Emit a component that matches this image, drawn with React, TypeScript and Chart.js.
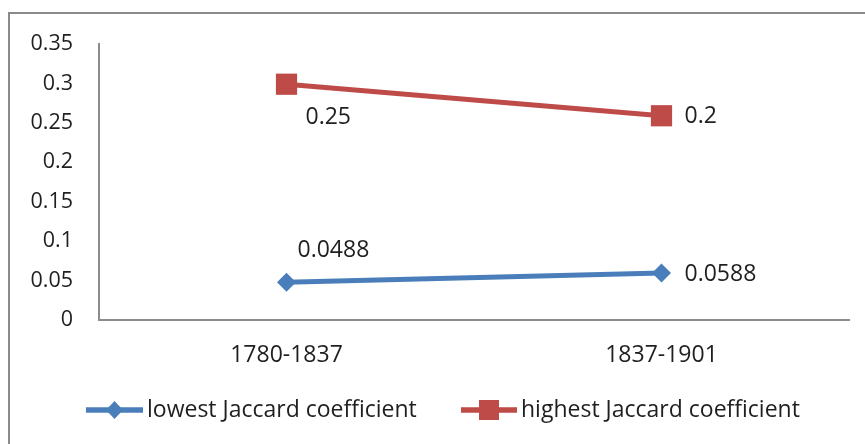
import React, { useEffect, useRef } from "react";
import { Chart, registerables } from "chart.js";

Chart.register(...registerables);

const categories = ["1780-1837", "1837-1901"];
const lowestValues = [0.048, 0.0595];
const highestValues = [0.299, 0.259];
const lowestLabels = ["0.0488", "0.0588"];
const highestLabels = ["0.25", "0.2"];
const seriesNames = ["lowest Jaccard coefficient", "highest Jaccard coefficient"];

const FONT = "'Open Sans', 'Noto Sans', sans-serif";
const TICK_SIZE = 21.5;
const LABEL_SIZE = 23;
const TEXT_COLOR = "#1f1f1f";
const BLUE = "#4a7ebb";
const RED = "#be4b48";
const AXIS = "#8c8c8c";

// label placement: [dx, dy]
const labelPlacement: Array<Array<[number, number]>> = [
  [
    [11, -32],
    [23, 1],
  ],
  [
    [19, 33],
    [23, 1],
  ],
];

const frameBorder = {
  id: "frameBorder",
  beforeDraw(chart: any) {
    const ctx = chart.ctx;
    ctx.save();
    ctx.fillStyle = "#ffffff";
    ctx.fillRect(0, 0, chart.width, chart.height);
    ctx.strokeStyle = "#8a8a8a";
    ctx.lineWidth = 2;
    ctx.strokeRect(9, 13, 2000, 2000);
    ctx.restore();
  },
};

const dataLabels = {
  id: "dataLabels",
  afterDatasetsDraw(chart: any) {
    const ctx = chart.ctx;
    ctx.save();
    ctx.font = `${LABEL_SIZE}px ${FONT}`;
    ctx.fillStyle = TEXT_COLOR;
    ctx.textBaseline = "middle";
    ctx.textAlign = "left";
    const texts = [lowestLabels, highestLabels];
    chart.data.datasets.forEach((_: any, di: number) => {
      const meta = chart.getDatasetMeta(di);
      meta.data.forEach((pt: any, pi: number) => {
        const [dx, dy] = labelPlacement[di][pi];
        ctx.fillText(texts[di][pi], pt.x + dx, pt.y + dy);
      });
    });
    ctx.restore();
  },
};

const customLegend = {
  id: "customLegend",
  afterDraw(chart: any) {
    const ctx = chart.ctx;
    const items = [
      { x0: 86, x1: 143, tx: 147 },
      { x0: 461, x1: 517, tx: 521 },
    ];
    const y = 410;
    ctx.save();
    chart.data.datasets.forEach((ds: any, i: number) => {
      const it = items[i];
      ctx.strokeStyle = ds.borderColor;
      ctx.lineWidth = 5.5;
      ctx.beginPath();
      ctx.moveTo(it.x0, y);
      ctx.lineTo(it.x1, y);
      ctx.stroke();
      const cx = (it.x0 + it.x1) / 2;
      ctx.fillStyle = ds.pointBackgroundColor;
      if (ds.pointStyle === "rect") {
        ctx.fillRect(cx - 10, y - 10, 20, 20);
      } else {
        ctx.beginPath();
        ctx.moveTo(cx, y - 9);
        ctx.lineTo(cx + 8.5, y);
        ctx.lineTo(cx, y + 9);
        ctx.lineTo(cx - 8.5, y);
        ctx.closePath();
        ctx.fill();
      }
      ctx.font = `${LABEL_SIZE}px ${FONT}`;
      ctx.fillStyle = TEXT_COLOR;
      ctx.textAlign = "left";
      ctx.textBaseline = "middle";
      ctx.fillText(ds.label, it.tx, y);
    });
    ctx.restore();
  },
};

export default function App() {
  const ref = useRef<HTMLCanvasElement>(null);

  useEffect(() => {
    if (!ref.current) return;
    const chart = new Chart(ref.current, {
      type: "line",
      data: {
        labels: categories,
        datasets: [
          {
            label: seriesNames[0],
            data: lowestValues,
            borderColor: BLUE,
            backgroundColor: BLUE,
            pointBackgroundColor: BLUE,
            pointBorderColor: BLUE,
            borderWidth: 5,
            pointStyle: "rectRot",
            pointRadius: 9.5,
            pointBorderWidth: 0,
            fill: false,
          } as any,
          {
            label: seriesNames[1],
            data: highestValues,
            borderColor: RED,
            backgroundColor: RED,
            pointBackgroundColor: RED,
            pointBorderColor: RED,
            borderWidth: 5,
            pointStyle: "rect",
            pointRadius: 15,
            pointBorderWidth: 0,
            fill: false,
          } as any,
        ],
      },
      options: {
        responsive: false,
        animation: false,
        layout: { padding: { left: 0, top: 44, right: 16, bottom: 0 } },
        plugins: {
          legend: { display: false },
          tooltip: { enabled: false },
          title: { display: false },
        },
        scales: {
          x: {
            offset: true,
            grid: { display: false, drawTicks: false },
            border: { display: true, color: AXIS, width: 2 },
            ticks: {
              padding: 22,
              color: TEXT_COLOR,
              font: { family: FONT, size: LABEL_SIZE },
            },
            afterFit(scale: any) {
              scale.height = 124;
            },
          },
          y: {
            min: 0,
            max: 0.35,
            grid: { display: false, drawTicks: false },
            border: { display: true, color: AXIS, width: 2 },
            ticks: {
              stepSize: 0.05,
              padding: 26,
              color: TEXT_COLOR,
              font: { family: FONT, size: TICK_SIZE },
              callback: (v: any) => String(Math.round(Number(v) * 100) / 100),
            },
            afterFit(scale: any) {
              scale.width = 99;
            },
          },
        },
      },
      plugins: [frameBorder, dataLabels, customLegend],
    });
    return () => chart.destroy();
  }, []);

  return (
    <div style={{ position: "absolute", left: 0, top: 0, width: 865, height: 444, overflow: "hidden" }}>
      <canvas ref={ref} width={865} height={444} style={{ display: "block" }} />
    </div>
  );
}
